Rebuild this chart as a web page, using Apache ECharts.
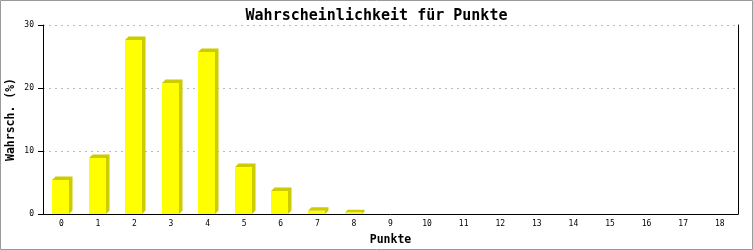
<!DOCTYPE html>
<html>
<head>
<meta charset="utf-8">
<script src="https://cdn.jsdelivr.net/npm/echarts@6/dist/echarts.min.js"></script>
<style>
html,body{margin:0;padding:0;background:#fff;}
#c{width:753px;height:250px;}
</style>
</head>
<body>
<div id="c"></div>
<script>
const categories = ['0','1','2','3','4','5','6','7','8','9','10','11','12','13','14','15','16','17','18'];
const values = [5.4, 8.9, 27.6, 20.8, 25.7, 7.45, 3.65, 0.5, 0.25, 0, 0, 0, 0, 0, 0, 0, 0, 0, 0];
const yTicks = [0, 10, 20, 30];

const chart = echarts.init(document.getElementById('c'), null, {renderer: 'canvas'});
const mono = 'DejaVu Sans Mono';

chart.setOption({
  animation: false,
  backgroundColor: '#fff',
  title: {
    text: 'Wahrscheinlichkeit für Punkte',
    left: 'center',
    top: 4,
    textStyle: {fontFamily: mono, fontSize: 15, fontWeight: 'bold', color: '#000'}
  },
  graphic: [{
    type: 'rect',
    shape: {x: 0.5, y: 0.5, width: 752, height: 249},
    style: {fill: 'none', stroke: '#999', lineWidth: 1},
    silent: true
  }],
  grid: {left: 43, right: 15, top: 25, bottom: 36, containLabel: false, outerBoundsMode: 'none'},
  xAxis: {
    type: 'category',
    data: categories,
    boundaryGap: true,
    name: 'Punkte',
    nameLocation: 'middle',
    nameGap: 20,
    nameMoveOverlap: false,
    nameTextStyle: {fontFamily: mono, fontSize: 11.5, fontWeight: 'bold', color: '#000'},
    axisLine: {lineStyle: {color: '#000', width: 1}},
    axisTick: {show: false},
    axisLabel: {fontFamily: mono, fontSize: 8, color: '#000', margin: 6, interval: 0},
    splitLine: {show: false}
  },
  yAxis: [{
    type: 'value',
    min: yTicks[0],
    max: yTicks[yTicks.length - 1],
    interval: 10,
    name: 'Wahrsch. (%)',
    nameLocation: 'middle',
    nameGap: 26,
    nameMoveOverlap: false,
    nameTextStyle: {fontFamily: mono, fontSize: 11.5, fontWeight: 'bold', color: '#000'},
    axisLine: {show: true, lineStyle: {color: '#000', width: 1}},
    axisTick: {show: true, length: 5, inside: false, lineStyle: {color: '#000'}},
    axisLabel: {fontFamily: mono, fontSize: 8, color: '#000', margin: 9},
    splitLine: {show: true, lineStyle: {color: '#bbb', type: [2, 4], width: 1}}
  }, {
    type: 'value',
    position: 'right',
    min: 0, max: 30, interval: 10,
    axisLine: {show: true, lineStyle: {color: '#000', width: 1}},
    axisTick: {show: false},
    axisLabel: {show: false},
    splitLine: {show: false}
  }],
  series: [{
    type: 'custom',
    data: values.map((v, i) => [i, v]),
    encode: {x: 0, y: 1},
    renderItem: function (params, api) {
      const v = api.value(1);
      if (!(v > 0)) return null;
      const top = api.coord([api.value(0), v]);
      const base = api.coord([api.value(0), 0]);
      const bw = api.size([1, 0])[0];
      const c = top[0];
      const x0 = Math.round(c - bw * 0.255);
      const w = Math.round(bw * 0.47);
      const x1 = x0 + w;
      const d = Math.max(1, Math.min(3.5, (base[1] - top[1]) + 1));
      const yT = top[1];
      const yB = base[1];
      return {
        type: 'group',
        children: [{
          type: 'polygon',
          shape: {points: [[x0, yT], [x0 + d, yT - d], [x1 + d, yT - d], [x1 + d, yB - d], [x1, yB], [x1, yT]]},
          style: {fill: '#cccc00', stroke: null}
        }, {
          type: 'rect',
          shape: {x: x0, y: yT, width: w, height: yB - yT},
          style: {fill: '#ffff00', stroke: null}
        }]
      };
    }
  }]
});
</script>
</body>
</html>
